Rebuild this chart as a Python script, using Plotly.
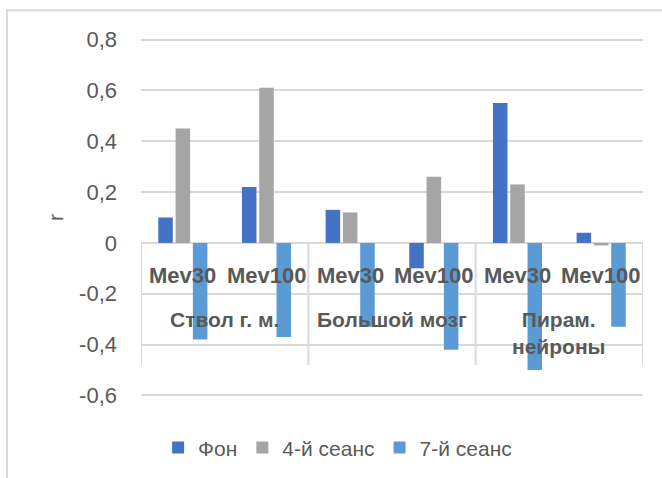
import plotly.graph_objects as go

# ---- data ----
sub_labels = ["Mev30", "Mev100", "Mev30", "Mev100", "Mev30", "Mev100"]
group_labels = ["Ствол г. м.", "Большой мозг", "Пирам.<br>нейроны"]
group_sizes = [2, 2, 2]
series_names = ["Фон", "4-й сеанс", "7-й сеанс"]
fon = [0.10, 0.22, 0.13, -0.10, 0.55, 0.04]
s4 = [0.45, 0.61, 0.12, 0.26, 0.23, -0.01]
s7 = [-0.38, -0.37, -0.33, -0.42, -0.50, -0.33]
colors = ["#4472C4", "#A5A5A5", "#5B9BD5"]
tick_vals = [-0.6, -0.4, -0.2, 0, 0.2, 0.4, 0.6, 0.8]
tick_text = ["-0,6", "-0,4", "-0,2", "0", "0,2", "0,4", "0,6", "0,8"]
y_title = "r"

FONT = "Liberation Sans"
GREY = "#595959"
GRID = "#D9D9D9"

x = list(range(len(sub_labels)))

fig = go.Figure()
for name, vals, col in zip(series_names, [fon, s4, s7], colors):
    fig.add_trace(go.Bar(x=x, y=vals, name=name, marker=dict(color=col, line=dict(width=0))))

annotations = []
for i, lab in enumerate(sub_labels):
    annotations.append(dict(x=i, y=-0.128, xref="x", yref="y", text=lab, showarrow=False,
                            font=dict(family=FONT, size=22, color=GREY, weight="bold"),
                            xanchor="center", yanchor="middle"))
shapes = []
start = 0
bounds = [-0.5]
for g, n in zip(group_labels, group_sizes):
    center = start + (n - 1) / 2
    annotations.append(dict(x=center, y=-0.250, xref="x", yref="y", text=g, showarrow=False,
                            font=dict(family=FONT, size=21, color=GREY, weight="bold"),
                            xanchor="center", yanchor="top"))
    start += n
    bounds.append(start - 0.5)
for b in bounds:
    shapes.append(dict(type="line", xref="x", yref="y", x0=b, x1=b, y0=0, y1=-0.48,
                       line=dict(color=GRID, width=2), layer="below"))

# chart border (left/top visible)
shapes.append(dict(type="rect", xref="paper", yref="paper", x0=-0.267, x1=1.3, y0=-0.5, y1=1.074,
                   line=dict(color=GRID, width=2), layer="below"))

fig.update_layout(
    width=662, height=478,
    margin=dict(l=141, r=19, t=37, b=80, pad=0, autoexpand=False),
    paper_bgcolor="white", plot_bgcolor="white",
    barmode="group", bargap=0.38, bargroupgap=0.16,
    font=dict(family=FONT, color=GREY),
    showlegend=True,
    legend=dict(orientation="h", xref="container", yref="container",
                x=0.51, xanchor="center", y=0.063, yanchor="middle",
                font=dict(family=FONT, size=21, color=GREY), itemwidth=30,
                traceorder="normal"),
    annotations=annotations,
    shapes=shapes,
)
fig.update_xaxes(range=[-0.5, 5.5], showticklabels=False, showgrid=False, zeroline=False,
                 showline=False, ticks="", fixedrange=True)
fig.update_yaxes(range=[-0.61, 0.81], tickvals=tick_vals, ticktext=tick_text,
                 tickfont=dict(family=FONT, size=22, color=GREY),
                 showgrid=True, gridcolor=GRID, gridwidth=1.5,
                 zeroline=True, zerolinecolor=GRID, zerolinewidth=1.5,
                 showline=False, ticks="", ticklabelstandoff=23,
                 title=dict(text=y_title, font=dict(family=FONT, size=21, color=GREY), standoff=9))

fig.write_html("out.html", config={"displayModeBar": False},
               post_script="document.body.style.margin='0px';")
